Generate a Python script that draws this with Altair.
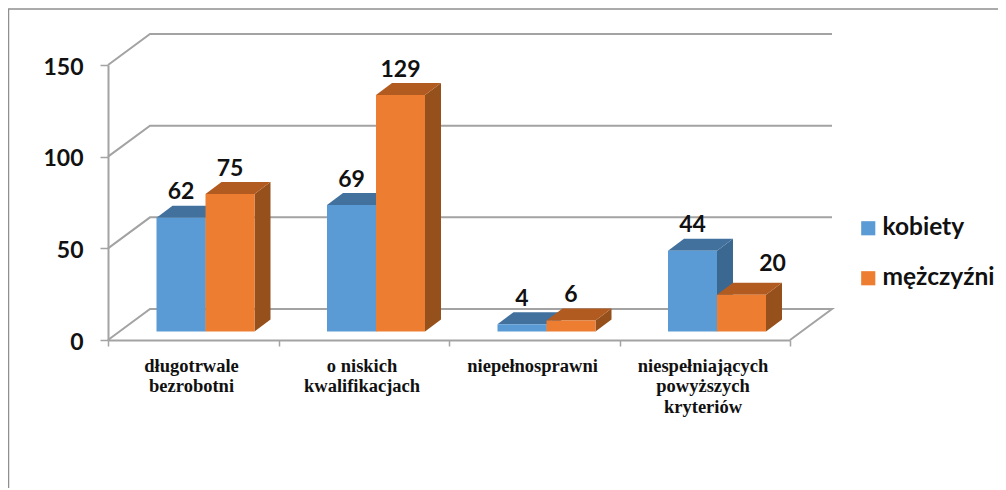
import altair as alt
import pandas as pd

CATEGORIES = ["długotrwale\nbezrobotni", "o niskich\nkwalifikacjach", "niepełnosprawni",
              "niespełniających\npowyższych\nkryteriów"]
SERIES = ["kobiety", "mężczyźni"]
KOBIETY = [62, 69, 4, 44]
MEZCZYZNI = [75, 129, 6, 20]
Y_TICKS = [0, 50, 100, 150]

FRONT = ["#5b9bd5", "#ed7d31"]
TOP = ["#41719c", "#b25b20"]
SIDE = ["#3a6890", "#95501b"]
GRID = "#a3a3a3"
INK = "#111111"

# 3-D projection constants, in data units of the x (category) and y (value) scales
PX_X = 170.5
PX_Y = 275 / 150
BASE = 8.5 / PX_Y
BAR_START = 48.5 / PX_X
BAR_W = 49 / PX_X
DEPTH_X = 16 / PX_X
DEPTH_Y = 12 / PX_Y
WALL_X = 42 / PX_X
WALL_Y = 31 / PX_Y

sides, tops, fronts, labels = [], [], [], []
for s, (name, vals) in enumerate(zip(SERIES, [KOBIETY, MEZCZYZNI])):
    for c, v in enumerate(vals):
        x0 = c + BAR_START + s * BAR_W
        x1 = x0 + BAR_W
        t = v + BASE
        b = BASE
        key = f"{s}-{c}"
        fronts.append(dict(series=name, x=x0, x2=x1, y=b, y2=t))
        for x, lo, hi in [(x1, b, t), (x1 + DEPTH_X, b + DEPTH_Y, t + DEPTH_Y)]:
            sides.append(dict(series=name, bar=key, x=x, lo=lo, hi=hi))
        for x, lo, hi in [(x0, t, t), (x0 + DEPTH_X, t, t + DEPTH_Y),
                          (x1, t, t + DEPTH_Y), (x1 + DEPTH_X, t + DEPTH_Y, t + DEPTH_Y)]:
            tops.append(dict(series=name, bar=key, x=x, lo=lo, hi=hi))
        # the "20" label sits off to the right of its bar in the reference
        moved = (v == 20)
        labels.append(dict(series=name, value=v,
                           x=(x0 + x1) / 2 + (31 / PX_X if moved else 0),
                           y=t + DEPTH_Y + (12 if moved else 6.5) / PX_Y))

wall = []
for v in Y_TICKS:
    pts = [(0, v), (WALL_X, v + WALL_Y), (4 + WALL_X, v + WALL_Y)]
    if v == 0:
        pts.append((4, 0))
    for i, (x, y) in enumerate(pts):
        wall.append(dict(tick=v, order=i, x=x, y=y))

sides = pd.DataFrame(sides)
tops = pd.DataFrame(tops)
fronts = pd.DataFrame(fronts)
labels = pd.DataFrame(labels)
wall = pd.DataFrame(wall)
cats = pd.DataFrame(dict(name=CATEGORIES, x=[i + 0.5 - 0.01 for i in range(4)], y=[-9] * 4))

xs = alt.Scale(domain=[0, 4], nice=False, zero=False, padding=0)
ys = alt.Scale(domain=[0, 150], nice=False, zero=False, padding=0)
x_axis = alt.Axis(values=[0, 1, 2, 3, 4], labels=False, title=None, grid=False,
                  domainColor=GRID, domainWidth=2, tickColor=GRID, tickWidth=1.5, tickSize=6)
y_axis = alt.Axis(values=Y_TICKS, title=None, grid=False, domainColor=GRID, domainWidth=2,
                  tickColor=GRID, tickWidth=1.5, tickSize=8, labelPadding=17, labelOffset=2,
                  labelFont="Lato", labelFontWeight="bold", labelFontSize=23, labelColor=INK)


def X(f="x:Q"):
    return alt.X(f, scale=xs, axis=x_axis)


def Y(f="y:Q"):
    return alt.Y(f, scale=ys, axis=y_axis)


walls = alt.Chart(wall).mark_line(color=GRID, strokeWidth=2, clip=False).encode(
    x=X(), y=Y(), detail="tick:N", order="order:Q")


def face_layer(table, name, colour):
    return alt.Chart(table[table["series"] == name]).mark_area(color=colour, orient="vertical", clip=False).encode(
        x=X(), y=Y("lo:Q"), y2="hi:Q", detail="bar:N")


front = alt.Chart(fronts).mark_rect(clip=False).encode(
    x=X(), x2="x2:Q", y=Y(), y2="y2:Q",
    fill=alt.Fill("series:N", scale=alt.Scale(domain=SERIES, range=FRONT), legend=alt.Legend(
        title=None, orient="none", legendX=748, legendY=151, symbolType="square", symbolSize=200,
        symbolStrokeWidth=0, labelFont="Lato", labelFontWeight="bold", labelFontSize=24.5, labelColor=INK,
        rowPadding=25, labelOffset=2, labelLimit=200)),
)

value_text = alt.Chart(labels).mark_text(font="Lato", fontWeight="bold", fontSize=23, color=INK,
                                         baseline="alphabetic", align="center", clip=False).encode(
    x=X(), y=Y(), text="value:Q")

cat_text = alt.Chart(cats).mark_text(font="Liberation Serif", fontWeight="bold", fontSize=18.5, color=INK,
                                     baseline="top", align="center", lineBreak="\n", lineHeight=20.5,
                                     clip=False).encode(
    x=X(), y=Y(), text="name:N")

frame_top = alt.Chart(pd.DataFrame({"a": [0]})).mark_rule(color="#8f8f8f", strokeWidth=1.5).encode(
    x=alt.value(-100), x2=alt.value(900), y=alt.value(-56))
frame_left = alt.Chart(pd.DataFrame({"a": [0]})).mark_rule(color="#8f8f8f", strokeWidth=1.5).encode(
    x=alt.value(-99.5), y=alt.value(-56), y2=alt.value(430))

chart = alt.layer(
    frame_top, frame_left, walls,
    face_layer(sides, SERIES[0], SIDE[0]), face_layer(tops, SERIES[0], TOP[0]),
    face_layer(sides, SERIES[1], SIDE[1]), face_layer(tops, SERIES[1], TOP[1]),
    front, value_text, cat_text,
).properties(
    width=682, height=275,
    padding={"left": 100, "top": 57, "right": 208, "bottom": 148},
    autosize=alt.AutoSizeParams(type="none"),
    background="white",
).configure_view(stroke=None)

chart.save("out.html", embed_options={"renderer": "svg", "actions": False})
